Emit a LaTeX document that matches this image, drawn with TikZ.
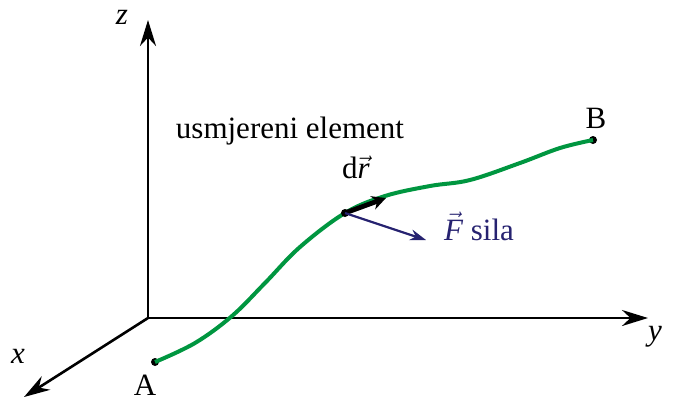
\documentclass[tikz,border=0pt]{standalone}
\usepackage{fontspec}
\setmainfont{Liberation Serif}
\usepackage{xcolor}
\usetikzlibrary{arrows.meta, positioning}
\definecolor{pathgreen}{RGB}{0,150,64}
\definecolor{forceblue}{RGB}{38,34,112}
\tikzset{
  axis/.style={line width=1.3pt, -{Stealth[length=13pt, width=8pt]}},
  trail/.style={line width=2pt, color=pathgreen},
  endpt/.style={circle, fill=black, inner sep=0pt, minimum size=4pt},
  lbl/.style={inner sep=1pt},
  vec/.style={line width=2.4pt, -{Stealth[length=7pt, width=7pt]}},
  force/.style={line width=1.1pt, color=forceblue, -{Stealth[length=8pt, width=5.5pt]}},
}

\begin{document}
\begin{tikzpicture}[x=0.5pt, y=-0.5pt, font=\fontsize{15.5}{18}\selectfont]
  \useasboundingbox (0,0) rectangle (674,403);
  % axes
  \coordinate (O) at (148,318);
  \coordinate (zend) at (148,20);
  \coordinate (yend) at (648,318);
  \coordinate (xend) at (24,397);
  \draw[axis] (O) -- (zend);
  \draw[axis] (O) -- (yend);
  \draw[axis] (O) -- (xend);
  \node[lbl] (zlab) at (122,17) {\itshape z};
  \node[lbl] (ylab) at (655,337) {\itshape y};
  \node[lbl] (xlab) at (18,356) {\itshape x};

  % path from A to B
  \node[endpt] (A) at (155,362) {};
  \node[endpt] (B) at (593,140) {};
  \coordinate (P) at (345,213);
  \draw[trail] plot[smooth, tension=0.6] coordinates {
    (155,362) (195,343) (232,316) (265,283) (300,247) (345,213)
    (385,196) (430,186) (470,180) (520,163) (560,148) (593,140)};
  \node[endpt] (Pdot) at (P) {};
  \node[lbl] (Alab) at (145,385) {A};
  \node[lbl] (Blab) at (596,118) {B};

  % vectors
  \coordinate (drend) at (386,198);
  \coordinate (Fend) at (426,240);
  \draw[vec] (Pdot.center) -- (drend);
  \draw[force] (Pdot.center) -- (Fend);
  \node[lbl] (elem) at (290,131) {usmjereni element};
  \node[lbl] (drlab) at (356,167) {d$\vec{\textit{r}}$};
  \node[lbl, text=forceblue] (Flab) at (479,226) {$\vec{\textit{F}}$ sila};
\end{tikzpicture}
\end{document}
